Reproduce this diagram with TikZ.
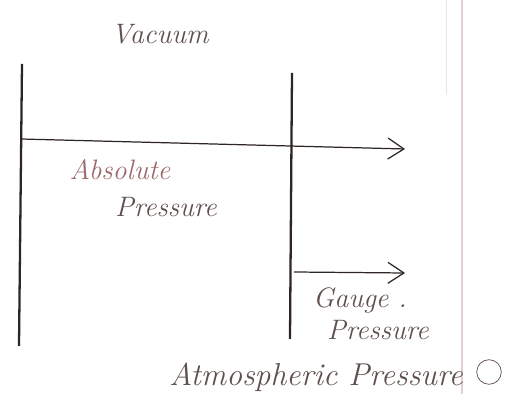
\documentclass[tikz,border=0pt]{standalone}
\usepackage{xcolor}
\usepackage{tikz}
\usetikzlibrary{arrows.meta,positioning}
\definecolor{ink}{HTML}{2E2622}
\definecolor{pencil}{HTML}{5E504C}
\definecolor{rose}{HTML}{9C6A6A}
\definecolor{margin}{HTML}{E3CFCF}

\begin{document}
\begin{tikzpicture}[
  x=0.02cm,y=-0.02cm,
  bar/.style={draw=ink,line width=1.3pt},
  lbl/.style={font=\fontsize{16}{18}\selectfont\itshape,text=pencil,align=center,inner sep=1pt},
  arr/.style={-{Straight Barb[length=3.2mm,width=4.2mm]},color=ink,line width=0.7pt}]
  \useasboundingbox (0,0) rectangle (531,394);
  % notebook margin
  \draw[margin,line width=0.6pt] (462,0) -- (462,394);
  \draw[margin!60,line width=0.4pt] (446,0) -- (446,95);
  % walls
  \coordinate (lt) at (22,64);  \coordinate (lb) at (19,346);
  \coordinate (mt) at (292,73); \coordinate (mb) at (290,339);
  \draw[bar] (lt) -- (lb);
  \draw[bar] (mt) -- (mb);
  % pressure arrows
  \coordinate (abs0) at (21,139);  \coordinate (abs1) at (405,149);
  \coordinate (g0) at (294,272);   \coordinate (g1) at (405,273);
  \draw[arr] (abs0) -- (abs1);
  \draw[arr] (g0) -- (g1);
  % labels
  \node[lbl] (vac) at (160,34) {Vacuum};
  \node[lbl,text=rose] (abs) at (120,170) {Absolute};
  \node[lbl] (absp) at (166,207) {Pressure};
  \node[lbl] (gau) at (360,300) {Gauge .};
  \node[lbl] (gaup) at (378,330) {Pressure};
  \node[lbl,font=\fontsize{18}{20}\selectfont\itshape] (atm) at (316,377) {Atmospheric Pressure};
  \node[draw=pencil,circle,minimum size=14pt,inner sep=0pt] (one) at (489,372) {};
\end{tikzpicture}
\end{document}
